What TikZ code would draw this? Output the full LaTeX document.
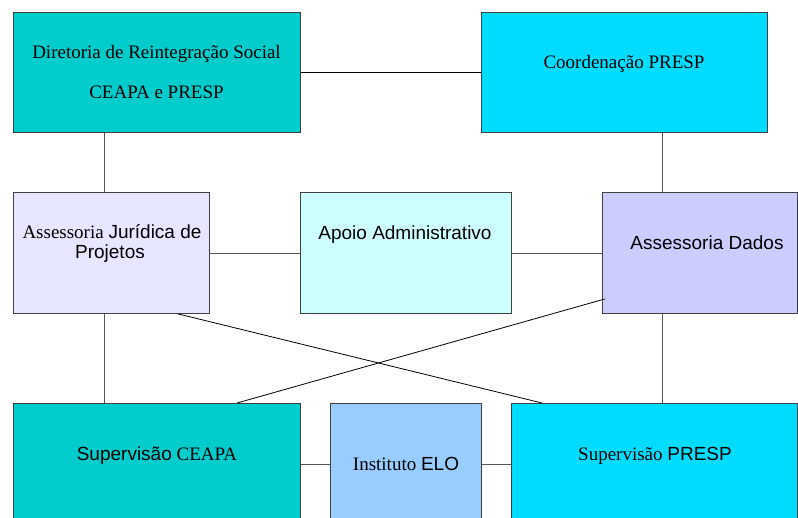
\documentclass[tikz,border=0pt]{standalone}
\usepackage{fontspec}
\setmainfont{Liberation Serif}
\setsansfont{Liberation Sans}
\usetikzlibrary{calc}
\definecolor{cteal}{HTML}{00CCCC}
\definecolor{ccyan}{HTML}{00DCFF}
\definecolor{clav}{HTML}{E6E6FF}
\definecolor{clight}{HTML}{CCFFFF}
\definecolor{cviolet}{HTML}{CCCCFF}
\definecolor{cblue}{HTML}{99CCFF}
\definecolor{cborder}{HTML}{404040}
\definecolor{cline}{HTML}{555555}
\begin{document}
\begin{tikzpicture}[x=1pt,y=-1pt,
  box/.style={draw=cborder, line width=0.9pt, anchor=north west, inner sep=0pt},
  lbl/.style={anchor=base, inner sep=0pt, font=\fontsize{19}{21}\selectfont},
  conn/.style={draw=cline, line width=0.9pt},
  cross/.style={draw=black, line width=0.8pt}]
\useasboundingbox (0,0) rectangle (798,517);
\clip (0,0) rectangle (798,517);
% boxes
\node[box, fill=cteal, minimum width=287pt, minimum height=120pt] (dir) at (13,12) {};
\node[box, fill=ccyan, minimum width=286pt, minimum height=120pt] (coord) at (481,12) {};
\node[box, fill=clav, minimum width=196pt, minimum height=121pt] (jur) at (13,192) {};
\node[box, fill=clight, minimum width=211pt, minimum height=121pt] (apoio) at (300,192) {};
\node[box, fill=cviolet, minimum width=195pt, minimum height=121pt] (dados) at (602,192) {};
\node[box, fill=cteal, minimum width=287pt, minimum height=122pt] (ceapa) at (13,403) {};
\node[box, fill=cblue, minimum width=151pt, minimum height=122pt] (elo) at (330,403) {};
\node[box, fill=ccyan, minimum width=286pt, minimum height=122pt] (presp) at (511,403) {};
% texts
\node[lbl] (dirA) at (156.5,58) {Diretoria de Reintegração Social};
\node[lbl] (dirB) at (156.5,98) {CEAPA e PRESP};
\node[lbl] (coordT) at (624,68) {Coordenação PRESP};
\node[lbl] (jurA) at (112,238) {Assessoria \textsf{Jurídica de}};
\node[lbl] (jurB) at (110,258) {\textsf{Projetos}};
\node[lbl] (apoioT) at (405,239) {\textsf{Apoio Administrativo}};
\node[lbl] (dadosT) at (707,249) {\textsf{Assessoria Dados}};
\node[lbl] (ceapaT) at (157,460) {\textsf{Supervisão} CEAPA};
\node[lbl] (eloT) at (406,470) {Instituto \textsf{ELO}};
\node[lbl] (prespT) at (655,460) {Supervisão \textsf{PRESP}};
% connectors
\draw[cross] (dir.east) -- (coord.west);
\draw[conn] ([xshift=91pt]dir.south west) -- ([xshift=91pt]jur.north west);
\draw[conn] ([xshift=181pt]coord.south west) -- ([xshift=60pt]dados.north west);
\draw[conn] (jur.east) -- (apoio.west);
\draw[conn] (apoio.east) -- (dados.west);
\draw[conn] ([xshift=91pt]jur.south west) -- ([xshift=91pt]ceapa.north west);
\draw[conn] ([xshift=60pt]dados.south west) -- ([xshift=151pt]presp.north west);
\draw[cross] ([xshift=165pt]jur.south west) -- ([xshift=31pt]presp.north west);
\draw[cross] ([xshift=3pt,yshift=15pt]dados.south west) -- ([xshift=224pt]ceapa.north west);
\draw[conn] (ceapa.east) -- (elo.west);
\draw[conn] (elo.east) -- (presp.west);
\end{tikzpicture}
\end{document}
